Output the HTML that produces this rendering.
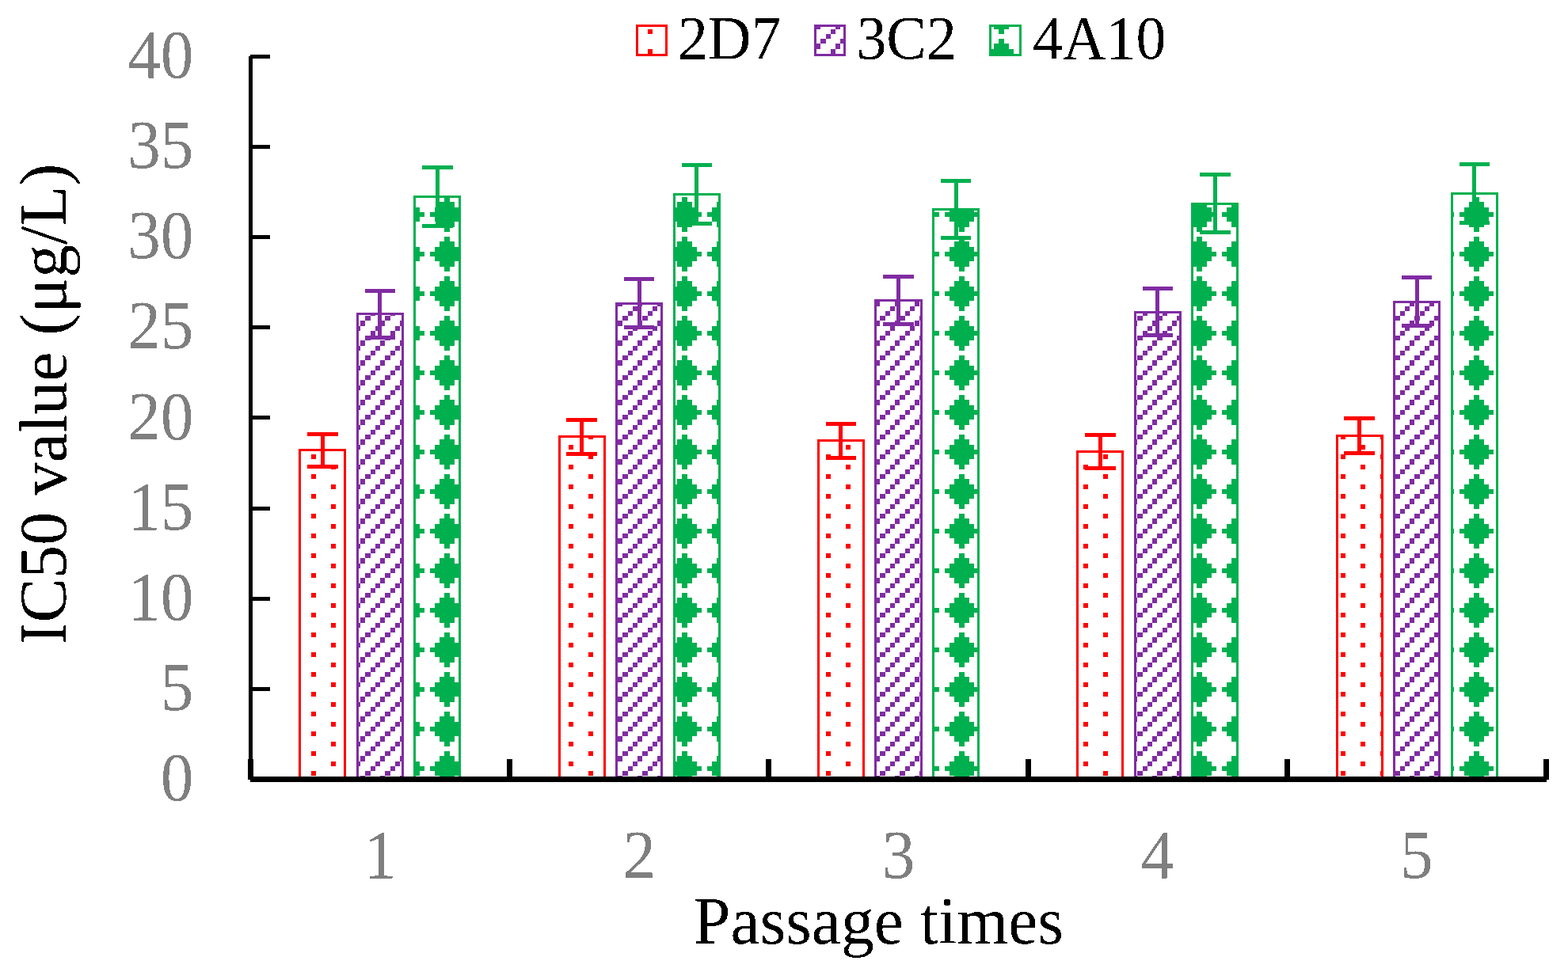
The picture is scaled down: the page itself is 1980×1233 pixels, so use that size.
<!DOCTYPE html>
<html lang="en">
<head>
<meta charset="utf-8">
<title>IC50 value by passage times</title>
<style>
html,body{margin:0;padding:0;background:#fff;}
body{width:1980px;height:1233px;overflow:hidden;}
svg{display:block;}
text{font-family:"Liberation Serif",serif;font-kerning:none;font-variant-ligatures:none;}
.tick{font-size:83.33px;fill:#7f7f7f;}
.title{font-size:83.33px;fill:#000;}
.leg{font-size:75px;fill:#000;}
</style>
</head>
<body>
<svg width="1980" height="1233" viewBox="0 0 1980 1233">
<defs>
<pattern id="pr" patternUnits="userSpaceOnUse" x="-1" y="-1" width="50" height="50"><path d="M44 0H50V6H44zM19 13H25V19H19zM44 25H50V31H44zM19 38H25V44H19z" fill="#ff0000"/></pattern>
<pattern id="pp" patternUnits="userSpaceOnUse" x="-1" y="-1" width="50" height="50"><path d="M12 0H19V6H12zM37 0H44V6H37zM6 6H12V13H6zM31 6H37V13H31zM0 13H6V19H0zM25 13H31V19H25zM19 19H25V25H19zM44 19H50V25H44zM12 25H19V31H12zM37 25H44V31H37zM6 31H12V38H6zM31 31H37V38H31zM0 38H6V44H0zM25 38H31V44H25zM19 44H25V50H19zM44 44H50V50H44z" fill="#802ca2"/></pattern>
<pattern id="pg" patternUnits="userSpaceOnUse" x="-1" y="-1" width="50" height="50"><path d="M12 0H19V6H12zM6 6H25V13H6zM0 13H31V19H0zM0 19H37V25H0zM44 19H50V25H44zM0 25H31V31H0zM6 31H25V38H6zM12 38H19V44H12z" fill="#00b04f"/></pattern>
<filter id="crisp" filterUnits="userSpaceOnUse" x="0" y="0" width="1980" height="1233" color-interpolation-filters="sRGB"><feComponentTransfer><feFuncA type="discrete" tableValues="0 1"/></feComponentTransfer></filter>
</defs>
<rect width="1980" height="1233" fill="#fff"/>
<g shape-rendering="crispEdges">
<g fill="url(#pr)" stroke="#ff0000" stroke-width="3">
<rect x="378.5" y="568.5" width="57" height="416.5"/>
<rect x="706.5" y="551.5" width="57" height="433.5"/>
<rect x="1033.5" y="556.5" width="57" height="428.5"/>
<rect x="1360.5" y="570.5" width="57" height="414.5"/>
<rect x="1688.5" y="550.5" width="57" height="434.5"/>
</g>
<g fill="url(#pp)" stroke="#802ca2" stroke-width="3">
<rect x="451.5" y="396.5" width="57" height="588.5"/>
<rect x="778.5" y="383.5" width="57" height="601.5"/>
<rect x="1105.5" y="379.5" width="58" height="605.5"/>
<rect x="1433.5" y="394.5" width="57" height="590.5"/>
<rect x="1760.5" y="381.5" width="57" height="603.5"/>
</g>
<g fill="url(#pg)" stroke="#00b04f" stroke-width="3">
<rect x="523.5" y="248.5" width="57" height="736.5"/>
<rect x="851.5" y="245.5" width="57" height="739.5"/>
<rect x="1178.5" y="264.5" width="57" height="720.5"/>
<rect x="1505.5" y="257.5" width="57" height="727.5"/>
<rect x="1833.5" y="244.5" width="57" height="740.5"/>
</g>
<path fill="#ff0000" d="M388 546H427V551H410V587H427V592H388V587H405V551H388zM715 528H754V533H737V571H754V576H715V571H732V533H715zM1043 533H1081V538H1064V576H1081V581H1043V576H1059V538H1043zM1370 547H1409V552H1392V589H1409V594H1370V589H1387V552H1370zM1697 526H1736V531H1719V570H1736V575H1697V570H1714V531H1697z"/>
<path fill="#802ca2" d="M461 365H499V370H482V424H499V429H461V424H477V370H461zM788 350H826V355H810V411H826V416H788V411H805V355H788zM1115 347H1154V352H1137V407H1154V412H1115V407H1132V352H1115zM1443 362H1481V367H1464V421H1481V426H1443V421H1459V367H1443zM1770 348H1808V353H1792V409H1808V414H1770V409H1787V353H1770z"/>
<path fill="#00b04f" d="M533 209H572V214H555V283H572V288H533V283H550V214H533zM861 206H899V211H882V280H899V285H861V280H877V211H861zM1188 226H1226V231H1210V298H1226V303H1188V298H1205V231H1188zM1515 218H1554V223H1537V291H1554V296H1515V291H1532V223H1515zM1843 205H1881V210H1864V279H1881V284H1843V279H1859V210H1843z"/>
<path fill="#000" d="M314 71H319V985H314zM316 981H1953V988H316zM316 69H341V74H316zM316 183H341V188H316zM316 297H341V302H316zM316 411H341V416H316zM316 525H341V530H316zM316 640H341V645H316zM316 754H341V759H316zM316 868H341V873H316zM313 959H320V985H313zM640 959H647V985H640zM967 959H974V985H967zM1295 959H1302V985H1295zM1622 959H1629V985H1622zM1949 959H1956V985H1949z"/>
</g>
<g shape-rendering="crispEdges" stroke-width="3">
<rect x="804.5" y="32.5" width="37" height="37" fill="url(#pr)" stroke="#ff0000"/>
<rect x="1029.5" y="32.5" width="37" height="37" fill="url(#pp)" stroke="#802ca2"/>
<rect x="1250.5" y="32.5" width="38" height="37" fill="url(#pg)" stroke="#00b04f"/>
</g>
<g filter="url(#crisp)">
<text class="tick" text-anchor="end" transform="translate(244.5 98) scale(1 1.03)">40</text>
<text class="tick" text-anchor="end" transform="translate(244.5 212.12) scale(1 1.03)">35</text>
<text class="tick" text-anchor="end" transform="translate(244.5 326.25) scale(1 1.03)">30</text>
<text class="tick" text-anchor="end" transform="translate(244.5 440.38) scale(1 1.03)">25</text>
<text class="tick" text-anchor="end" transform="translate(244.5 554.5) scale(1 1.03)">20</text>
<text class="tick" text-anchor="end" transform="translate(244.5 668.62) scale(1 1.03)">15</text>
<text class="tick" text-anchor="end" transform="translate(244.5 782.75) scale(1 1.03)">10</text>
<text class="tick" text-anchor="end" transform="translate(244.5 896.88) scale(1 1.03)">5</text>
<text class="tick" text-anchor="end" transform="translate(244.5 1011) scale(1 1.03)">0</text>
<text class="tick" text-anchor="middle" transform="translate(480.1 1108.5) scale(1 1.03)">1</text>
<text class="tick" text-anchor="middle" transform="translate(807.3 1108.5) scale(1 1.03)">2</text>
<text class="tick" text-anchor="middle" transform="translate(1134.5 1108.5) scale(1 1.03)">3</text>
<text class="tick" text-anchor="middle" transform="translate(1461.7 1108.5) scale(1 1.03)">4</text>
<text class="tick" text-anchor="middle" transform="translate(1788.9 1108.5) scale(1 1.03)">5</text>
<text class="title" transform="translate(876 1192) scale(1.004 1.015)">Passage times</text>
<text class="title" transform="translate(83 814.5) rotate(-90) scale(1.0055 1.02)">IC50 value (μg/L)</text>
<text class="leg" transform="translate(856 74) scale(1.01 1.04)">2D7</text>
<text class="leg" transform="translate(1081.5 74) scale(1.01 1.04)">3C2</text>
<text class="leg" transform="translate(1304 74) scale(1.01 1.04)">4A10</text>
</g>
</svg>
</body>
</html>
